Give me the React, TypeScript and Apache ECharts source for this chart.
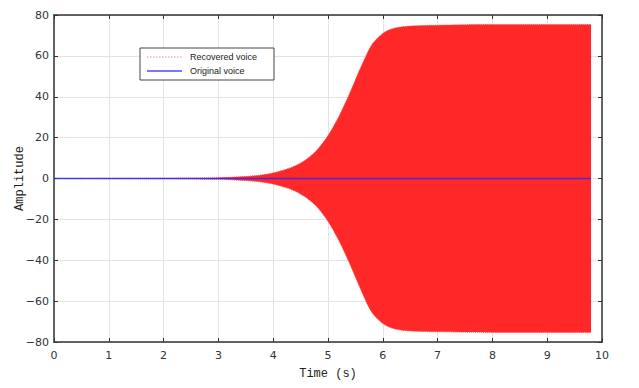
import React, { useEffect, useRef } from "react";
import * as echarts from "echarts";

// Envelope of the recovered voice (amplitude)
const envelopeTime = [0, 1, 2, 2.5, 3, 3.3, 3.6, 3.9, 4.2, 4.4, 4.6, 4.8, 5.0, 5.2, 5.4, 5.6, 5.8, 6.0, 6.2, 6.5, 7, 8, 9, 9.8];
const envelopeAmp = [0, 0.05, 0.1, 0.2, 0.4, 0.7, 1.2, 2.2, 4.2, 6.2, 9.3, 14, 21, 30.5, 42, 54.5, 65.5, 71, 73.5, 74.6, 75, 75.3, 75.3, 75.3];

// Original voice (flat near zero)
const originalTime = [0, 9.8];
const originalAmp = [0, 0];

const xTicks = { min: 0, max: 10, interval: 1 };
const yTicks = { min: -80, max: 80, interval: 20 };

const seriesNames = ["Recovered voice", "Original voice"];

export default function App() {
  const ref = useRef<HTMLDivElement>(null);
  useEffect(() => {
    if (!ref.current) return;
    const chart = echarts.init(ref.current, null, { renderer: "svg" });
    const upper = envelopeTime.map((t, i) => [t, envelopeAmp[i]]);
    const lower = envelopeTime.map((t, i) => [t, -envelopeAmp[i]]);
    const orig = originalTime.map((t, i) => [t, originalAmp[i]]);
    const red = "#ff2828";
    const axisColor = "#333333";
    const fmt = (v: number) => (v < 0 ? "\u2212" + Math.abs(v) : String(v));
    const axisLine = { show: true, onZero: false, lineStyle: { color: axisColor, width: 1.5 } };
    const axisTick = { show: true, inside: true, length: 4, lineStyle: { color: axisColor } };
    const lx = 140, ly = 48;
    chart.setOption({
      animation: false,
      backgroundColor: "#ffffff",
      grid: { left: 54, right: 37, top: 15, bottom: 46, containLabel: false, outerBoundsMode: "none" },
      xAxis: [
        {
          type: "value",
          ...xTicks,
          position: "bottom",
          name: "Time (s)",
          nameLocation: "middle",
          nameGap: 26,
          nameMoveOverlap: false,
          nameTextStyle: { fontFamily: "Liberation Mono", fontSize: 12, color: "#222" },
          axisLine,
          axisTick,
          axisLabel: { color: "#333", fontFamily: "DejaVu Sans", fontSize: 11, margin: 8 },
          splitLine: { show: true, lineStyle: { color: "#e3e3e3", width: 1 } },
        },
        {
          type: "value",
          ...xTicks,
          position: "top",
          axisLine,
          axisTick,
          axisLabel: { show: false },
          splitLine: { show: false },
        },
      ],
      yAxis: [
        {
          type: "value",
          ...yTicks,
          position: "left",
          name: "Amplitude",
          nameLocation: "middle",
          nameGap: 28,
          nameMoveOverlap: false,
          nameTextStyle: { fontFamily: "Liberation Mono", fontSize: 12, color: "#222" },
          axisLine,
          axisTick,
          axisLabel: { color: "#333", fontFamily: "DejaVu Sans", fontSize: 11, margin: 5, formatter: fmt },
          splitLine: { show: true, lineStyle: { color: "#e3e3e3", width: 1 } },
        },
        {
          type: "value",
          ...yTicks,
          position: "right",
          axisLine,
          axisTick,
          axisLabel: { show: false },
          splitLine: { show: false },
        },
      ],
      series: [
        {
          name: seriesNames[0],
          type: "line",
          data: upper,
          smooth: 0.3,
          symbol: "none",
          lineStyle: { color: "#ff5050", width: 1, type: "dotted" },
          areaStyle: { color: red, opacity: 1 },
          z: 2,
        },
        {
          name: seriesNames[0] + " (lower)",
          type: "line",
          data: lower,
          smooth: 0.3,
          symbol: "none",
          lineStyle: { color: "#ff5050", width: 1, type: "dotted" },
          areaStyle: { color: red, opacity: 1 },
          z: 2,
        },
        {
          name: seriesNames[1],
          type: "line",
          data: orig,
          symbol: "none",
          lineStyle: { color: "rgba(30,30,255,0.8)", width: 1.6 },
          z: 3,
        },
      ],
      graphic: [
        { type: "rect", z: 100, shape: { x: lx, y: ly, width: 134, height: 32 }, style: { fill: "#fff", stroke: "#444", lineWidth: 1 } },
        { type: "line", z: 101, shape: { x1: lx + 7, y1: ly + 9, x2: lx + 42, y2: ly + 9 }, style: { stroke: "#f08a8a", lineWidth: 1, lineDash: [1.5, 1.5] } },
        { type: "text", z: 101, x: lx + 50, y: ly + 9, style: { text: seriesNames[0], fontFamily: "Liberation Sans", fontSize: 9, fill: "#222", verticalAlign: "middle" } },
        { type: "line", z: 101, shape: { x1: lx + 7, y1: ly + 23, x2: lx + 42, y2: ly + 23 }, style: { stroke: "#4a4aff", lineWidth: 1.5 } },
        { type: "text", z: 101, x: lx + 50, y: ly + 23, style: { text: seriesNames[1], fontFamily: "Liberation Sans", fontSize: 9, fill: "#222", verticalAlign: "middle" } },
      ],
    });
    return () => chart.dispose();
  }, []);
  return <div ref={ref} style={{ position: "fixed", left: 0, top: 0, width: 639, height: 388 }} />;
}
